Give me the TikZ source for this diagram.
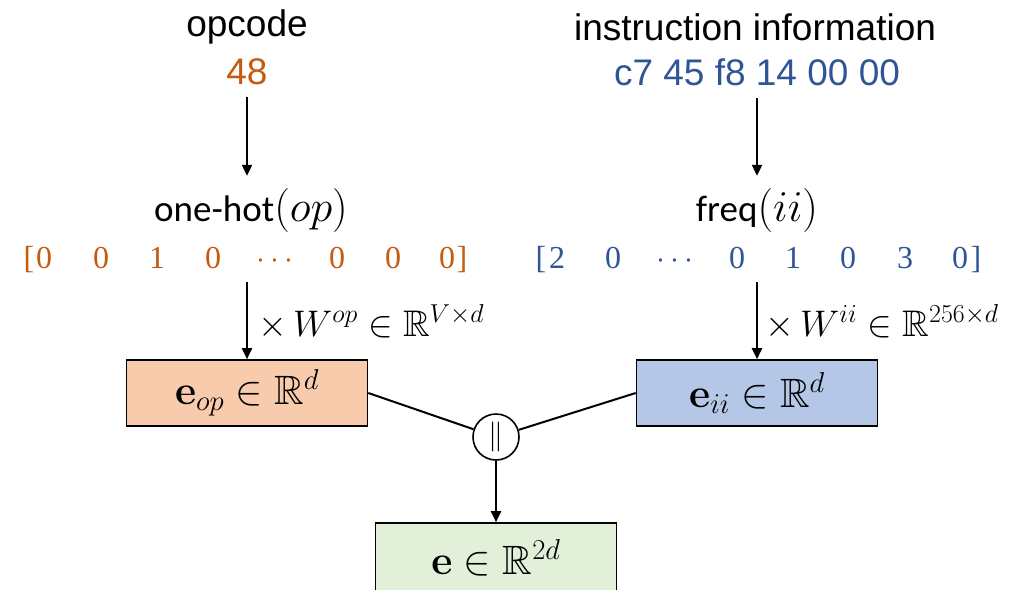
\RequirePackage{fix-cm}
\documentclass[tikz,border=0pt]{standalone}
\usepackage{amssymb}
\usepackage[no-math]{fontspec}
\setmainfont{Carlito}
\newfontfamily\labfont{Liberation Sans}
\newfontfamily\digfont{Liberation Serif}
\usetikzlibrary{arrows.meta}
\definecolor{orng}{HTML}{C55A11}
\definecolor{blu}{HTML}{2F5597}
\definecolor{peach}{HTML}{F8CBAD}
\definecolor{lblue}{HTML}{B4C7E7}
\definecolor{lgreen}{HTML}{E2F0D9}
\newcommand{\argmath}[1]{{\fontsize{44}{48}\selectfont$#1$}}
\begin{document}
\begin{tikzpicture}[x=1pt,y=-1pt,
  lab/.style={font=\labfont\fontsize{37}{40}\selectfont, inner sep=0pt},
  sub/.style={font=\fontsize{37}{40}\selectfont, inner sep=0pt},
  vec/.style={font=\digfont\fontsize{32}{36}\selectfont, inner sep=0pt, anchor=base},
  mth/.style={font=\fontsize{37}{40}\selectfont, inner sep=0pt, anchor=west},
  arr/.style={line width=2pt, -{Triangle[length=11pt,width=10pt]}},
  ln/.style={line width=2pt},
  emb/.style={draw, line width=1.6pt, minimum width=241pt, minimum height=66pt, inner sep=0pt, font=\fontsize{41}{44}\selectfont}]
\useasboundingbox (0,0) rectangle (1033,589);

% top labels
\node[lab] (opc) at (247,27) {opcode};
\node[lab, text=orng] (opv) at (247,72) {48};
\node[lab] (iil) at (755,27) {instruction information};
\node[lab, text=blu] (iiv) at (757,72) {c7 45 f8 14 00 00};

% function labels
\node[sub] (oh) at (251,210) {one-hot\argmath{(op)}};
\node[sub] (fq) at (757,210) {freq\argmath{(ii)}};

% opcode vector
\begin{scope}[text=orng]
\node[vec] (ob1) at (29,268) {[};
\node[vec] (o1) at (44,268) {0};
\node[vec] (o2) at (101,268) {0};
\node[vec] (o3) at (157,268) {1};
\node[vec] (o4) at (213,268) {0};
\node[vec] (o5) at (275,268) {$\cdots$};
\node[vec] (o6) at (337,268) {0};
\node[vec] (o7) at (393,268) {0};
\node[vec] (o8) at (447,268) {0};
\node[vec] (ob2) at (462,268) {]};
\end{scope}

% ii vector
\begin{scope}[text=blu]
\node[vec] (ib1) at (541,268) {[};
\node[vec] (i1) at (557,268) {2};
\node[vec] (i2) at (613,268) {0};
\node[vec] (i3) at (675,268) {$\cdots$};
\node[vec] (i4) at (737,268) {0};
\node[vec] (i5) at (793,268) {1};
\node[vec] (i6) at (848,268) {0};
\node[vec] (i7) at (905,268) {3};
\node[vec] (i8) at (960,268) {0};
\node[vec] (ib2) at (976,268) {]};
\end{scope}

% weight labels
\node[mth] (wop) at (258,322) {$\times\, W^{op} \in \mathbb{R}^{V\times d}$};
\node[mth] (wii) at (765,322) {$\times\, W^{ii} \in \mathbb{R}^{256\times d}$};

% boxes
\node[emb, fill=peach] (eop) at (247,393) {$\mathbf{e}_{op} \in \mathbb{R}^{d}$};
\node[emb, fill=lblue] (eii) at (757,393) {$\mathbf{e}_{ii} \in \mathbb{R}^{d}$};
\node[circle, draw, line width=1.6pt, minimum size=46pt, inner sep=0pt, font=\fontsize{30}{32}\selectfont] (cat) at (496,437) {$\|$};
\node[emb, fill=lgreen, minimum height=70pt] (e) at (496,558) {$\mathbf{e} \in \mathbb{R}^{2d}$};

% connectors
\coordinate (ova) at (247,282);
\coordinate (iva) at (757,282);
\draw[arr, shorten <=12pt, shorten >=12pt] (opv.south) -- (oh.north -| opv.south);
\draw[arr, shorten <=12pt, shorten >=12pt] (iiv.south) -- (fq.north);
\draw[arr] (ova) -- (eop.north);
\draw[arr] (iva) -- (eii.north);
\draw[ln] (eop.east) -- (cat);
\draw[ln] (eii.west) -- (cat);
\draw[arr] (cat.south) -- (e.north);
\end{tikzpicture}
\end{document}
